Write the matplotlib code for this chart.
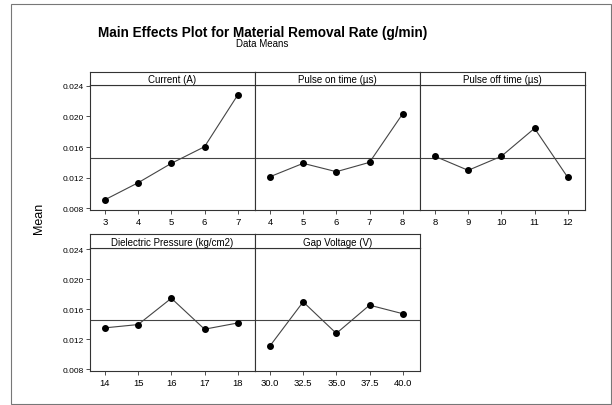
import numpy as np
import matplotlib
matplotlib.use("Agg")
import matplotlib.pyplot as plt
from matplotlib.patches import Rectangle

plt.rcParams['font.family'] = ['Liberation Sans', 'DejaVu Sans']

# factor names and their levels
factors = ["Current (A)", "Pulse on time (\u00b5s)", "Pulse off time (\u00b5s)",
           "Dielectric Pressure (kg/cm2)", "Gap Voltage (V)"]
levels_current = ["3", "4", "5", "6", "7"]
levels_ton = ["4", "5", "6", "7", "8"]
levels_toff = ["8", "9", "10", "11", "12"]
levels_pressure = ["14", "15", "16", "17", "18"]
levels_voltage = ["30.0", "32.5", "35.0", "37.5", "40.0"]

# mean MRR (g/min) at each level
mrr_current = [0.00912, 0.01134, 0.01387, 0.01604, 0.02279]
mrr_ton = [0.01212, 0.01387, 0.01278, 0.01400, 0.02035]
mrr_toff = [0.01479, 0.01296, 0.01479, 0.01844, 0.01204]
mrr_pressure = [0.01354, 0.01398, 0.01749, 0.01336, 0.01419]
mrr_voltage = [0.01112, 0.01701, 0.01280, 0.01657, 0.01543]

grand_mean = 0.01458
yticks = [0.008, 0.012, 0.016, 0.020, 0.024]

levels = [levels_current, levels_ton, levels_toff, levels_pressure, levels_voltage]
means = [mrr_current, mrr_ton, mrr_toff, mrr_pressure, mrr_voltage]

W, H = 612, 406
fig = plt.figure(figsize=(W / 100, H / 100), dpi=100)

# outer frame
fig.patches.append(Rectangle((11 / W, 1 - 405 / H), 600 / W, 400 / H,
                             transform=fig.transFigure, fill=False,
                             edgecolor='#777777', linewidth=0.8))

fig.text(263 / W, 1 - 33 / H, "Main Effects Plot for Material Removal Rate (g/min)",
         ha='center', va='center', fontsize=9.8, fontweight='bold')
fig.text(262 / W, 1 - 44 / H, "Data Means", ha='center', va='center', fontsize=7)
fig.text(39 / W, 1 - 218 / H, "Mean", ha='center', va='center', rotation=90, fontsize=9)

col_x = [90, 255, 420]
panel_w = 165
rows = [(85.5, 210.7, 73.3), (249.3, 371.7, 235.0)]   # axes top, axes bottom, strip top
ylim = (0.00782, 0.02416)
edge = '#333333'

for i, (name, lev, val) in enumerate(zip(factors, levels, means)):
    r, c = divmod(i, 3)
    top, bot, stop = rows[r]
    x0 = col_x[c]
    ax = fig.add_axes([x0 / W, 1 - bot / H, panel_w / W, (bot - top) / H])
    xs = np.arange(len(lev))
    ax.axhline(grand_mean, color='#444444', linewidth=0.8, zorder=1)
    ax.plot(xs, val, color='#444444', linewidth=0.8, marker='o', markersize=4,
            markerfacecolor='black', markeredgecolor='black', zorder=3)
    ax.set_xlim(-0.45, 4.52)
    ax.set_ylim(*ylim)
    ax.set_xticks(xs)
    ax.set_xticklabels(lev)
    ax.set_yticks(yticks)
    ax.set_yticklabels(["%.3f" % t for t in yticks])
    ax.tick_params(axis='x', labelsize=6.8, length=3, width=0.6, color=edge, pad=2)
    ax.tick_params(axis='y', labelsize=6, length=3, width=0.6, color=edge, pad=1.5)
    if c != 0:
        ax.tick_params(axis='y', left=False, labelleft=False)
    for s in ax.spines.values():
        s.set_color(edge)
        s.set_linewidth(0.8)

    # strip header above each panel
    sax = fig.add_axes([x0 / W, 1 - top / H, panel_w / W, (top - stop) / H])
    sax.set_xticks([])
    sax.set_yticks([])
    for s in sax.spines.values():
        s.set_color(edge)
        s.set_linewidth(0.8)
    sax.text(0.5, 0.45, name, ha='center', va='center', fontsize=7,
             transform=sax.transAxes)

fig.savefig("out.png", dpi=100)
